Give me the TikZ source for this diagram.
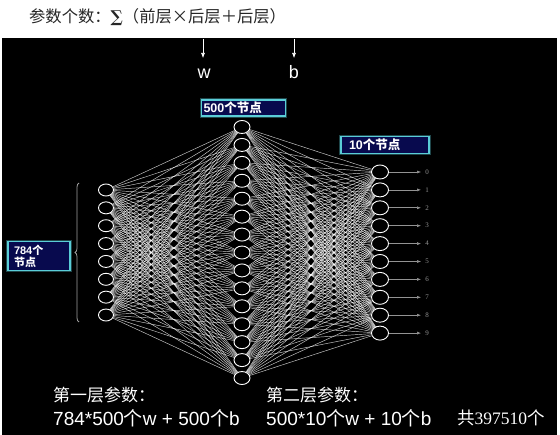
\documentclass[tikz,border=0pt]{standalone}
\usepackage{fontspec}
\setmainfont{Liberation Sans}
\newfontfamily\cjk{Noto Sans CJK SC}
\newfontfamily\serifnum{Liberation Serif}
\newfontfamily\dvserif{DejaVu Serif}
\usetikzlibrary{shapes.geometric,decorations.pathreplacing,arrows.meta}
\definecolor{navybox}{RGB}{8,10,78}
\definecolor{cyanedge}{RGB}{90,205,215}
\begin{document}
\begin{tikzpicture}[x=1pt,y=-1pt,
  neuron/.style={ellipse,draw=white,fill=black,line width=0.9pt,minimum width=15pt,minimum height=12pt,inner sep=0pt},
  link/.style={white,opacity=0.8,line width=0.45pt},
  lblbox/.style={rectangle,fill=navybox,draw=cyanedge,line width=1.2pt,text=white,
     preaction={draw=cyanedge,opacity=0.35,line width=3.5pt},
     font=\fontsize{12.5}{13}\selectfont\bfseries},
  outarrow/.style={-{Latex[length=4pt,width=3pt]},gray!85,line width=0.6pt},
  outlbl/.style={text=gray!85,font=\serifnum\fontsize{7}{8}\selectfont,inner sep=0pt},
  bigtxt/.style={text=white,anchor=west,inner sep=0pt}
]
\useasboundingbox (0,0) rectangle (560,435);
\fill[white] (0,0) rectangle (560,435);
\fill[black] (2,38) rectangle (557,435);

% title
\node[anchor=west,inner sep=0pt,text=black!85,font=\cjk\fontsize{16.3}{18}\selectfont] (title) at (29,17)
  {参数个数：{\dvserif\bfseries ∑}（前层×后层＋后层）};

% layers
\foreach \i in {1,...,8}
  \node[neuron] (L\i) at (106,{190+17.86*(\i-1)}) {};
\foreach \j in {1,...,15}
  \node[neuron,minimum width=16pt,minimum height=13pt] (M\j) at (242,{127+17.93*(\j-1)}) {};
\foreach \k in {1,...,10}
  \node[neuron,minimum width=17pt,minimum height=14pt] (R\k) at (380,{172+17.9*(\k-1)}) {};

% connections
\foreach \i in {1,...,8}
  \foreach \j in {1,...,15}
    \draw[link] (L\i) -- (M\j);
\foreach \j in {1,...,15}
  \foreach \k in {1,...,10}
    \draw[link] (M\j) -- (R\k);

% outputs
\foreach \k [evaluate=\k as \d using int(\k-1)] in {1,...,10} {
  \node[outlbl] (O\k) at (427,{172+17.9*(\k-1)}) {\d};
  \draw[outarrow] (R\k.east) -- ([xshift=-4pt]O\k.west);
}

% brace
\coordinate (braceB) at (79,322);
\coordinate (braceT) at (79,183);
\draw[decorate,decoration={brace,amplitude=4pt},gray!75,line width=0.8pt] (braceB) -- (braceT);

% label boxes
\node[lblbox,text width=80pt,align=left,inner xsep=2pt,inner ysep=2pt] (b500) at (243.5,108) {500{\cjk 个节点}};
\node[lblbox,text width=72pt,align=left,inner xsep=8pt,inner ysep=2.5pt] (b10) at (385,145) {10{\cjk 个节点}};
\node[lblbox,text width=50pt,align=left,inner xsep=6pt,inner ysep=3pt,
      font=\fontsize{11}{12}\selectfont\bfseries] (b784) at (39,256) {784{\cjk 个}\\{\cjk 节点}};

% w and b arrows
\node[text=white,font=\fontsize{18}{20}\selectfont,inner sep=0pt] (w) at (204,74) {w};
\node[text=white,font=\fontsize{18}{20}\selectfont,inner sep=0pt] (b) at (294,72) {b};
\coordinate (wtop) at (203,39);
\coordinate (wend) at (203,58);
\coordinate (btop) at (294,39);
\coordinate (bend) at (294,58);
\draw[-{Latex[length=5pt,width=4pt]},white,line width=0.6pt] (wtop) -- (wend);
\draw[-{Latex[length=5pt,width=4pt]},white,line width=0.6pt] (btop) -- (bend);

% bottom text
\node[bigtxt,font=\cjk\fontsize{17}{19}\selectfont] (t1a) at (53,395) {第一层参数：};
\node[bigtxt,font=\fontsize{19}{21}\selectfont] (t1b) at (53,418) {784*500{\cjk 个}w + 500{\cjk 个}b};
\node[bigtxt,font=\cjk\fontsize{17}{19}\selectfont] (t2a) at (266,395) {第二层参数：};
\node[bigtxt,font=\fontsize{19}{21}\selectfont] (t2b) at (266,418) {500*10{\cjk 个}w + 10{\cjk 个}b};
\node[bigtxt,font=\fontsize{17.5}{19}\selectfont] (t3) at (457,418) {{\cjk 共}{\serifnum 397510}{\cjk 个}};
\end{tikzpicture}
\end{document}
